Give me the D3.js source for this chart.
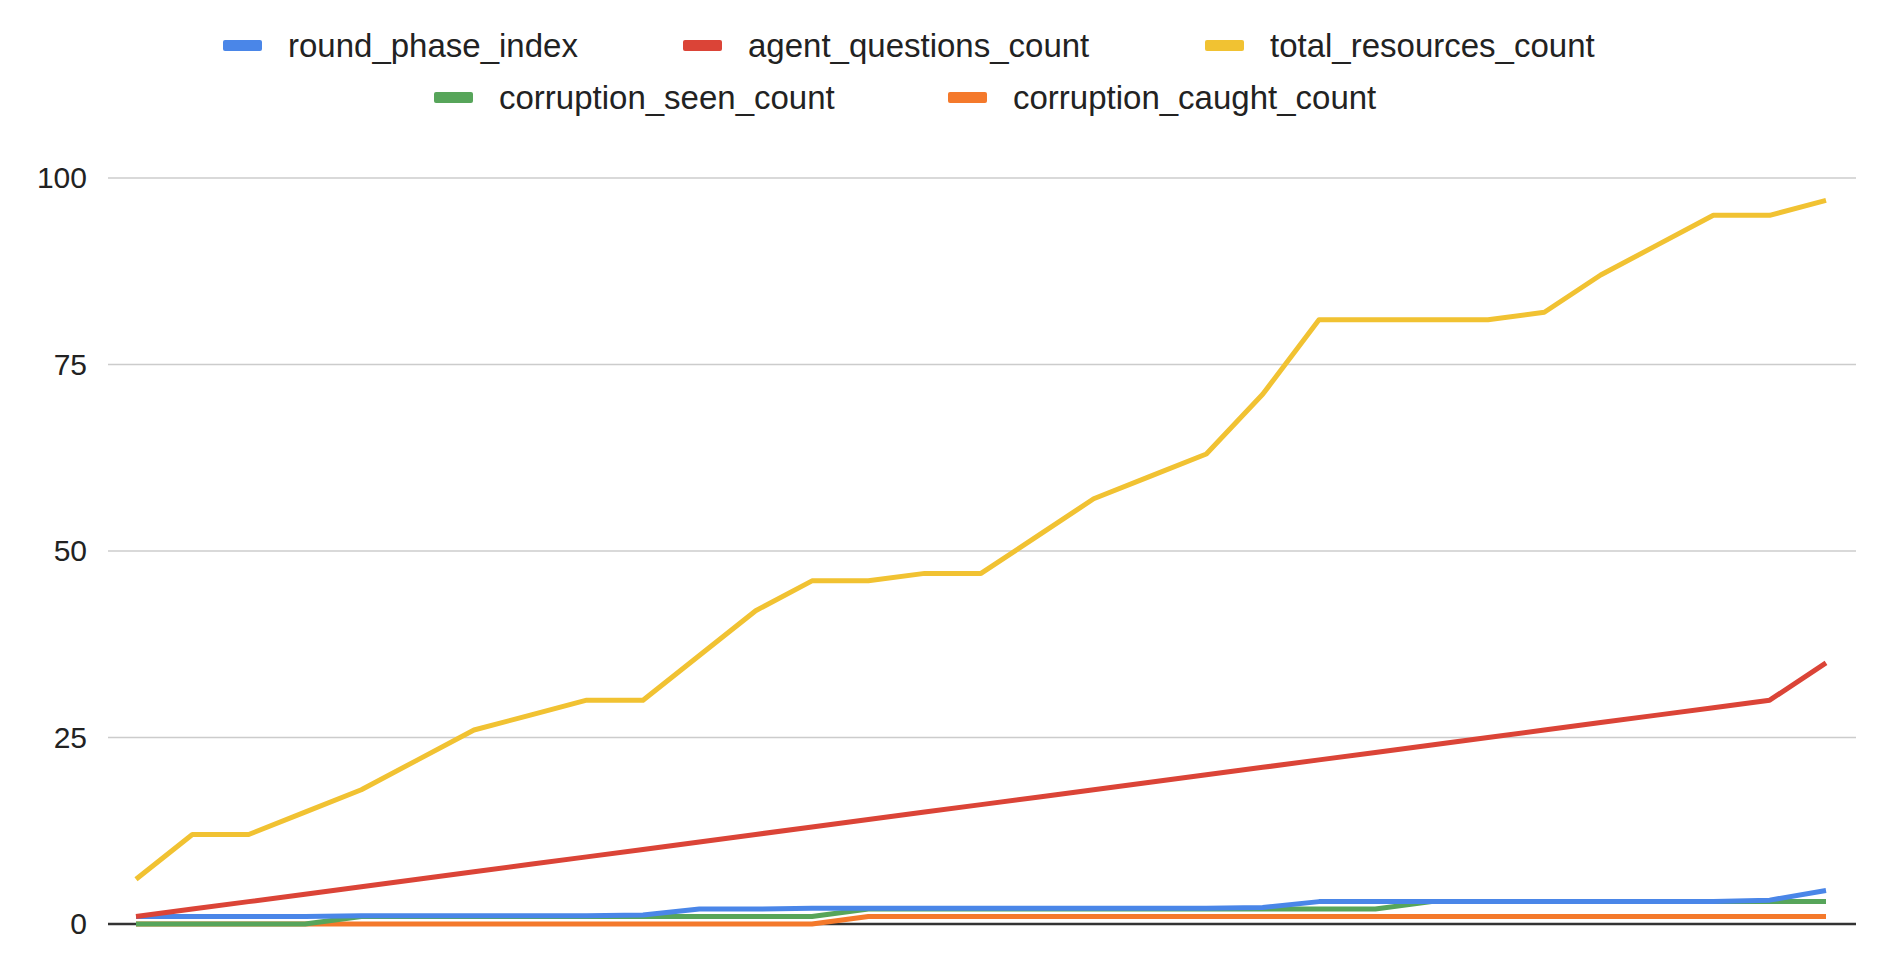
<!DOCTYPE html>
<html>
<head>
<meta charset="utf-8">
<script src="https://d3js.org/d3.v7.min.js"></script>
<style>body{margin:0;background:#fff;} text{font-family:Arial,"Liberation Sans",sans-serif;}</style>
</head>
<body>
<svg id="chart" width="1880" height="968"></svg>
<script>
var names = ["round_phase_index","agent_questions_count","total_resources_count","corruption_seen_count","corruption_caught_count"];
var colors = ["#4a86e8","#db4437","#f1c232","#57a55a","#f4792b"];
var roundPhase = [1,1,1,1,1.1,1.1,1.1,1.1,1.1,1.2,2,2,2.1,2.1,2.1,2.1,2.1,2.1,2.1,2.1,2.2,3,3,3,3,3,3,3,3,3.2,4.5];
var agentQuestions = [1,2,3,4,5,6,7,8,9,10,11,12,13,14,15,16,17,18,19,20,21,22,23,24,25,26,27,28,29,30,35];
var totalResources = [6,12,12,15,18,22,26,28,30,30,36,42,46,46,47,47,52,57,60,63,71,81,81,81,81,82,87,91,95,95,97];
var corruptionSeen = [0,0,0,0,1,1,1,1,1,1,1,1,1,2,2,2,2,2,2,2,2,2,2,3,3,3,3,3,3,3,3];
var corruptionCaught = [0,0,0,0,0,0,0,0,0,0,0,0,0,1,1,1,1,1,1,1,1,1,1,1,1,1,1,1,1,1,1];
var yTicks = [0,25,50,75,100];

var series = [roundPhase, agentQuestions, totalResources, corruptionSeen, corruptionCaught];
var svg = d3.select("#chart");
var x = d3.scaleLinear().domain([0, totalResources.length-1]).range([136,1826]);
var y = d3.scaleLinear().domain([0,100]).range([924,178]);

// grid
svg.selectAll(".grid").data(yTicks).enter().append("line")
  .attr("x1",108).attr("x2",1856).attr("y1",d=>y(d)).attr("y2",d=>y(d))
  .attr("stroke",d=>d===0?"#333":"#ccc").attr("stroke-width",d=>d===0?2.5:1.5);
svg.selectAll(".tick").data(yTicks).enter().append("text")
  .attr("x",87).attr("y",d=>y(d)+10).attr("text-anchor","end")
  .attr("font-size",30).attr("fill","#222").text(d=>d);

var line = d3.line().x((d,i)=>x(i)).y(d=>y(d));
// draw in reverse so first series on top similar to reference
[4,3,0,1,2].forEach(function(k){
  svg.append("path").attr("d",line(series[k])).attr("fill","none")
    .attr("stroke",colors[k]).attr("stroke-width",5).attr("stroke-linejoin","round");
});

// legend
var leg = [
  {k:0,x:223,y:46},{k:1,x:683,y:46},{k:2,x:1205,y:46},
  {k:3,x:434,y:98},{k:4,x:948,y:98}
];
leg.forEach(function(l){
  svg.append("rect").attr("x",l.x).attr("y",l.y-6).attr("width",39).attr("height",11)
    .attr("rx",2).attr("fill",colors[l.k]);
  svg.append("text").attr("x",l.x+65).attr("y",l.y+11).attr("font-size",33)
    .attr("fill","#222").text(names[l.k]);
});
</script>
</body>
</html>
